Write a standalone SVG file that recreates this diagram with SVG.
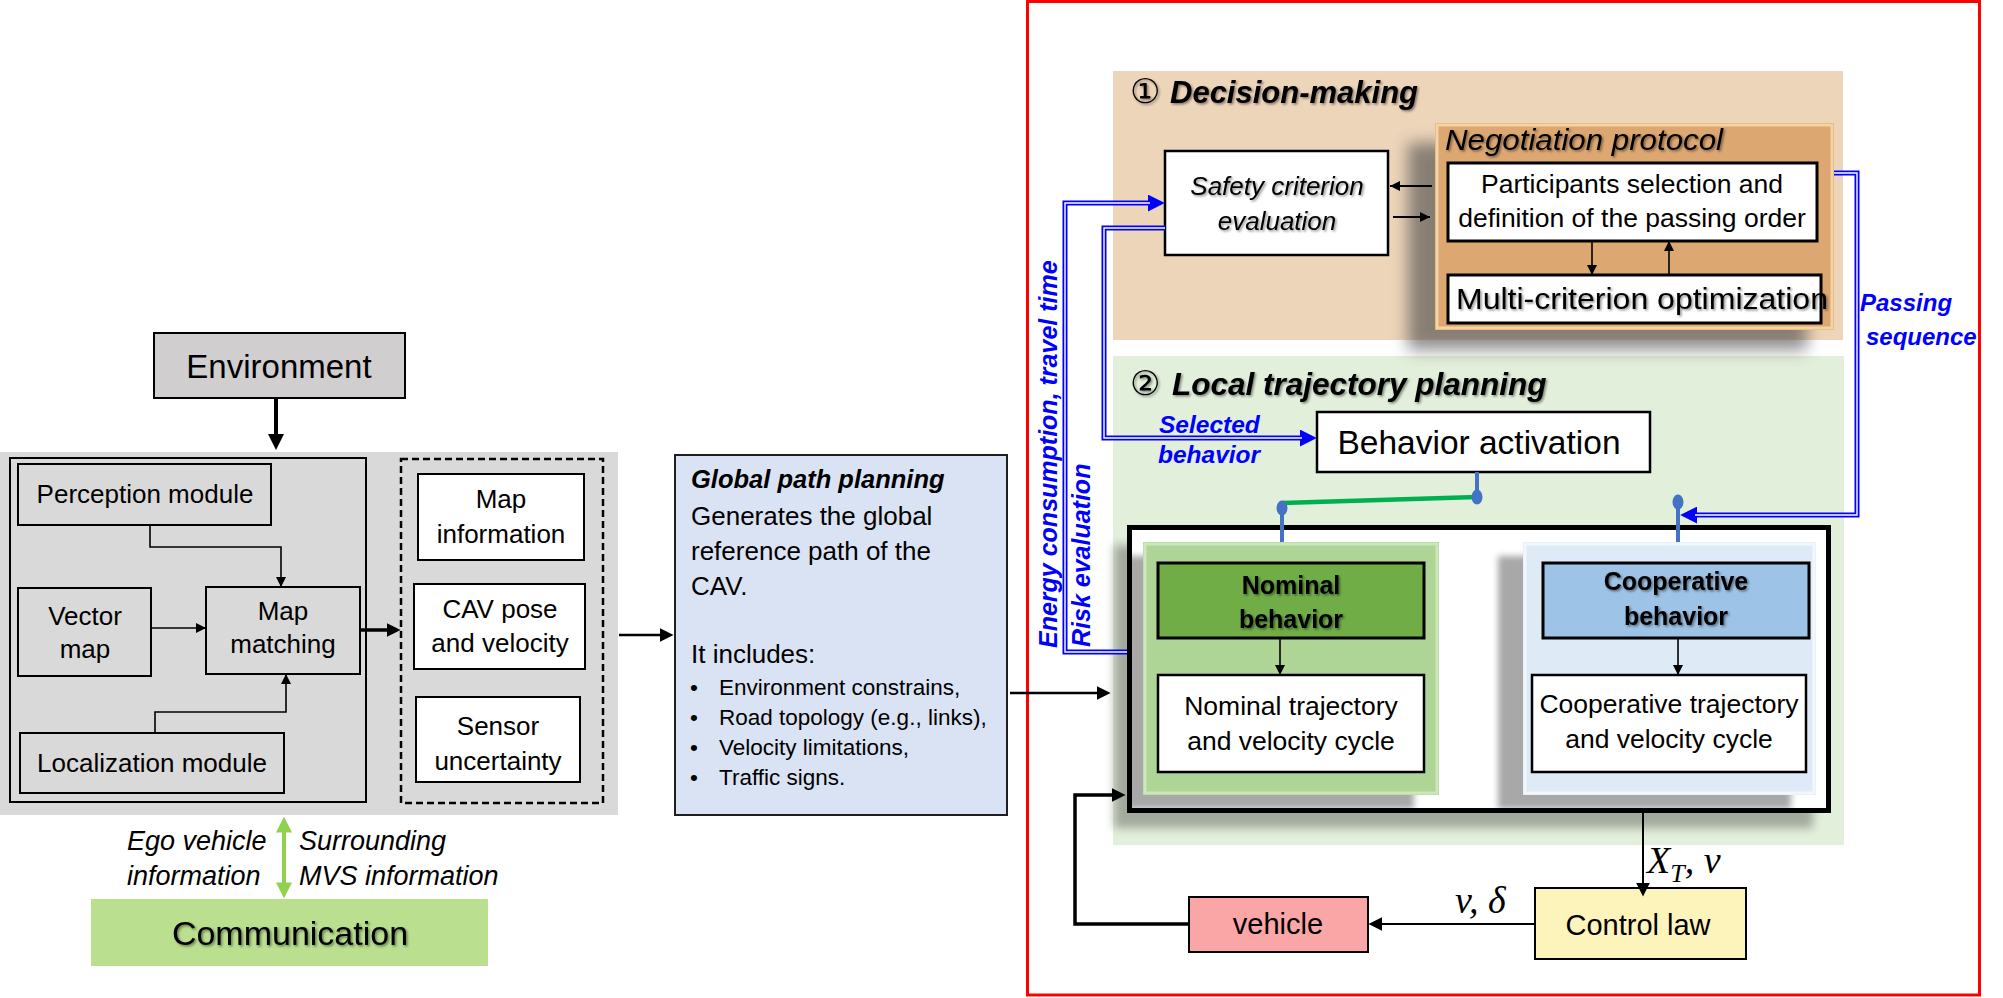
<svg xmlns="http://www.w3.org/2000/svg" width="2003" height="998" viewBox="0 0 2003 998">
<defs>
<style>
text{font-family:"Liberation Sans","DejaVu Sans",sans-serif;fill:#000}
.c{text-anchor:middle}
.i{font-style:italic}
.b{font-weight:bold}
.bl{fill:#0000ff}
.bx{stroke:#000;stroke-width:2}
.ln{fill:none;stroke:#000;stroke-width:1.6}
.dbl{fill:none;stroke:#0000ff;stroke-width:5}
.dbw{fill:none;stroke:#fff;stroke-width:1.4}
.bc{fill:none;stroke:#4472c4;stroke-width:4}
.math{font-family:"Liberation Serif","DejaVu Serif",serif;font-style:italic}
</style>
<marker id="a10" viewBox="0 0 10 10" refX="10" refY="5" markerWidth="11" markerHeight="10" markerUnits="userSpaceOnUse" orient="auto"><path d="M0,0L10,5L0,10z"/></marker>
<marker id="a14" viewBox="0 0 10 10" refX="6" refY="5" markerWidth="14" markerHeight="14" markerUnits="userSpaceOnUse" orient="auto"><path d="M0,0L10,5L0,10z"/></marker>
<marker id="a17" viewBox="0 0 10 10" refX="6" refY="5" markerWidth="17" markerHeight="16" markerUnits="userSpaceOnUse" orient="auto"><path d="M0,0L10,5L0,10z"/></marker>
<marker id="ab" viewBox="0 0 10 10" refX="6" refY="5" markerWidth="17" markerHeight="17" markerUnits="userSpaceOnUse" orient="auto"><path d="M0,0L10,5L0,10z" fill="#0000ff"/></marker>
<marker id="ag" viewBox="0 0 10 10" refX="6" refY="5" markerWidth="16" markerHeight="16" markerUnits="userSpaceOnUse" orient="auto-start-reverse"><path d="M0,0L10,5L0,10z" fill="#92d050"/></marker>
<filter id="blur8" x="-20%" y="-20%" width="140%" height="140%"><feGaussianBlur stdDeviation="8"/></filter>
<filter id="blur5" x="-20%" y="-20%" width="140%" height="140%"><feGaussianBlur stdDeviation="5"/></filter>
<filter id="blur3" x="-20%" y="-20%" width="140%" height="140%"><feGaussianBlur stdDeviation="3"/></filter>
<filter id="tsh" x="-10%" y="-30%" width="120%" height="160%"><feDropShadow dx="1.5" dy="1.5" stdDeviation="1.2" flood-color="#000" flood-opacity="0.45"/></filter>
<clipPath id="bigin"><rect x="1132" y="530" width="694" height="278"/></clipPath>
</defs>

<rect width="2003" height="998" fill="#fff"/>

<!-- left side -->
<g id="environment">
<rect x="154" y="333" width="251" height="65" fill="#d0cece" class="bx"/>
<text x="279" y="378" class="c" font-size="33">Environment</text>
</g>

<g id="sensing-panel">
<rect x="0" y="452" width="618" height="363" fill="#d9d9d9"/>
<rect x="10" y="458" width="356" height="344" fill="none" class="bx"/>
<rect x="401" y="459" width="202" height="344" fill="none" stroke="#000" stroke-width="2.5" stroke-dasharray="7 4"/>
</g>

<g id="perception-module">
<rect x="18" y="464" width="253" height="61" fill="#d9d9d9" class="bx"/>
<text x="145" y="503" class="c" font-size="26">Perception module</text>
</g>
<g id="vector-map">
<rect x="18" y="588" width="133" height="88" fill="#d9d9d9" class="bx"/>
<text x="85" y="625" class="c" font-size="26">Vector</text>
<text x="85" y="658" class="c" font-size="26">map</text>
</g>
<g id="map-matching">
<rect x="206" y="587" width="154" height="87" fill="#d9d9d9" class="bx"/>
<text x="283" y="620" class="c" font-size="26">Map</text>
<text x="283" y="653" class="c" font-size="26">matching</text>
</g>
<g id="localization-module">
<rect x="20" y="733" width="264" height="60" fill="#d9d9d9" class="bx"/>
<text x="152" y="772" class="c" font-size="26">Localization module</text>
</g>
<g id="map-information">
<rect x="418" y="474" width="166" height="86" fill="#fff" class="bx"/>
<text x="501" y="508" class="c" font-size="26">Map</text>
<text x="501" y="543" class="c" font-size="26">information</text>
</g>
<g id="cav-pose">
<rect x="414" y="584" width="171" height="85" fill="#fff" class="bx"/>
<text x="500" y="618" class="c" font-size="26">CAV pose</text>
<text x="500" y="652" class="c" font-size="26">and velocity</text>
</g>
<g id="sensor-uncertainty">
<rect x="416" y="697" width="164" height="85" fill="#fff" class="bx"/>
<text x="498" y="735" class="c" font-size="26">Sensor</text>
<text x="498" y="770" class="c" font-size="26">uncertainty</text>
</g>

<g id="communication">
<rect x="91" y="899" width="397" height="67" fill="#badf8f"/>
<text x="290" y="945" class="c" font-size="34" filter="url(#tsh)">Communication</text>
</g>

<g id="global-path-planning">
<rect x="675" y="455" width="332" height="360" fill="#dae3f3" stroke="#1f1f1f" stroke-width="2"/>
<text x="691" y="488" class="b i" font-size="25.5">Global path planning</text>
<text x="691" y="525" font-size="26">Generates the global</text>
<text x="691" y="560" font-size="26">reference path of the</text>
<text x="691" y="595" font-size="26">CAV.</text>
<text x="691" y="663" font-size="26">It includes:</text>
<g font-size="22.5">
<text x="690" y="695">•</text><text x="719" y="695">Environment constrains,</text>
<text x="690" y="725">•</text><text x="719" y="725">Road topology (e.g., links),</text>
<text x="690" y="755">•</text><text x="719" y="755">Velocity limitations,</text>
<text x="690" y="785">•</text><text x="719" y="785">Traffic signs.</text>
</g>
</g>

<!-- right side -->
<rect id="frame" x="1027.5" y="1.5" width="952" height="993.5" fill="none" stroke="#ff0000" stroke-width="3"/>

<g id="decision-making">
<rect x="1113" y="71" width="730" height="269" fill="#edd5ba"/>
<text y="103" class="b i" font-size="31" filter="url(#tsh)"><tspan x="1130" font-style="normal" font-weight="normal" font-size="34">①</tspan><tspan x="1170">Decision-making</tspan></text>
</g>

<g id="local-trajectory-planning">
<rect x="1113" y="356" width="731" height="489" fill="#e2efda"/>
<text y="395" class="b i" font-size="31.5" filter="url(#tsh)"><tspan x="1130" font-style="normal" font-weight="normal" font-size="34">②</tspan><tspan x="1172">Local trajectory planning</tspan></text>
</g>

<g id="safety-criterion">
<rect x="1165" y="151" width="223" height="104" fill="#fff" stroke="#000" stroke-width="2.5"/>
<text x="1277" y="195" class="c i" font-size="26" filter="url(#tsh)">Safety criterion</text>
<text x="1277" y="230" class="c i" font-size="26" filter="url(#tsh)">evaluation</text>
</g>

<g id="negotiation-protocol">
<rect x="1408" y="143" width="399" height="207" fill="#444" opacity="0.6" filter="url(#blur8)"/>
<rect x="1435" y="123" width="399" height="207" fill="#dca770"/>
<rect x="1437" y="125" width="395" height="203" fill="none" stroke="#f6d3a4" stroke-width="3"/>
<text x="1445" y="150" class="i" font-size="29" textLength="278" lengthAdjust="spacingAndGlyphs" filter="url(#tsh)">Negotiation protocol</text>
</g>
<g id="participants-selection">
<rect x="1448" y="163" width="369" height="78" fill="#fff" stroke="#000" stroke-width="3"/>
<text x="1632" y="193" class="c" font-size="26.5">Participants selection and</text>
<text x="1632" y="227" class="c" font-size="26.5">definition of the passing order</text>
</g>
<g id="multi-criterion">
<rect x="1448" y="275" width="373" height="48" fill="#fff" stroke="#000" stroke-width="3"/>
<text x="1456" y="309" font-size="30" textLength="372" lengthAdjust="spacingAndGlyphs" filter="url(#tsh)">Multi-criterion optimization</text>
</g>

<g id="behavior-activation">
<rect x="1317" y="412" width="333" height="60" fill="#fff" stroke="#000" stroke-width="2.5"/>
<text x="1479" y="454" class="c" font-size="33.5">Behavior activation</text>
</g>

<g id="behavior-container">
<rect x="1114" y="545" width="699" height="283" fill="#555" opacity="0.45" filter="url(#blur5)"/>
<rect x="1129.5" y="527.5" width="699" height="283" fill="#fff" stroke="#000" stroke-width="5"/>
<g clip-path="url(#bigin)">
<rect x="1118" y="556" width="296" height="253" fill="#a8a8a8" filter="url(#blur3)"/>
<rect x="1498" y="556" width="293" height="253" fill="#a8a8a8" filter="url(#blur3)"/>
</g>
</g>

<g id="nominal-panel">
<rect x="1143" y="542" width="296" height="253" fill="#aed596"/>
<rect x="1145" y="544" width="292" height="249" fill="none" stroke="#cde7bb" stroke-width="3"/>
</g>
<g id="cooperative-panel">
<rect x="1523" y="542" width="293" height="253" fill="#deebf7"/>
<rect x="1525" y="544" width="289" height="249" fill="none" stroke="#f2f7fc" stroke-width="3"/>
</g>
<g id="nominal-behavior">
<rect x="1158" y="563" width="266" height="75" fill="#70ad47" stroke="#000" stroke-width="3"/>
<text x="1291" y="594" class="c b" font-size="25" filter="url(#tsh)">Nominal</text>
<text x="1291" y="628" class="c b" font-size="25" filter="url(#tsh)">behavior</text>
</g>
<g id="cooperative-behavior">
<rect x="1543" y="563" width="266" height="75" fill="#9dc3e6" stroke="#000" stroke-width="3"/>
<text x="1676" y="590" class="c b" font-size="25" filter="url(#tsh)">Cooperative</text>
<text x="1676" y="625" class="c b" font-size="25" filter="url(#tsh)">behavior</text>
</g>
<g id="nominal-trajectory">
<rect x="1158" y="675" width="266" height="97" fill="#fff" stroke="#000" stroke-width="2.5"/>
<text x="1291" y="715" class="c" font-size="26.5">Nominal trajectory</text>
<text x="1291" y="750" class="c" font-size="26.5">and velocity cycle</text>
</g>
<g id="cooperative-trajectory">
<rect x="1532" y="675" width="274" height="97" fill="#fff" stroke="#000" stroke-width="2.5"/>
<text x="1669" y="713" class="c" font-size="26.5">Cooperative trajectory</text>
<text x="1669" y="748" class="c" font-size="26.5">and velocity cycle</text>
</g>

<g id="control-law">
<rect x="1535" y="888" width="211" height="71" fill="#fdf4bb" stroke="#000" stroke-width="2"/>
<text x="1638" y="935" class="c" font-size="29">Control law</text>
</g>
<g id="vehicle">
<rect x="1189" y="897" width="179" height="55" fill="#fba6a6" stroke="#000" stroke-width="2"/>
<text x="1278" y="934" class="c" font-size="29">vehicle</text>
</g>

<!-- connectors -->
<g id="connectors">
<path d="M276,399V443.6" fill="none" stroke="#000" stroke-width="4" marker-end="url(#a17)"/>
<path d="M150,525V547H281V587" class="ln" marker-end="url(#a10)"/>
<path d="M151,628H206" class="ln" marker-end="url(#a10)"/>
<path d="M155,733V712H286V674" class="ln" marker-end="url(#a10)"/>
<path d="M360,630H395" fill="none" stroke="#000" stroke-width="3.5" marker-end="url(#a14)"/>
<path d="M619,635H668" fill="none" stroke="#000" stroke-width="2.5" marker-end="url(#a14)"/>
<path d="M284,823V892" fill="none" stroke="#92d050" stroke-width="4" marker-start="url(#ag)" marker-end="url(#ag)"/>
<path d="M1010,693H1105" fill="none" stroke="#000" stroke-width="2.5" marker-end="url(#a14)"/>

<path d="M1432,186H1390" fill="none" stroke="#000" stroke-width="2" marker-end="url(#a10)"/>
<path d="M1393,217H1430" fill="none" stroke="#000" stroke-width="2" marker-end="url(#a10)"/>
<path d="M1592,241V275" class="ln" marker-end="url(#a10)"/>
<path d="M1669,275V241" class="ln" marker-end="url(#a10)"/>

<path d="M1127,652H1065V203H1158" class="dbl" marker-end="url(#ab)"/>
<path d="M1127,652H1065V203H1150" class="dbw"/>
<path d="M1165,228H1104V438H1310" class="dbl" marker-end="url(#ab)"/>
<path d="M1165,228H1104V438H1302" class="dbw"/>
<path d="M1834,173H1857V515H1687" class="dbl" marker-end="url(#ab)"/>
<path d="M1834,173H1857V515H1695" class="dbw"/>

<path d="M1477,472V497" class="bc"/>
<path d="M1477,497L1282,503" fill="none" stroke="#00b050" stroke-width="4.5"/>
<ellipse cx="1477" cy="497" rx="5.5" ry="7.5" fill="#4472c4"/>
<path d="M1282,509V542" class="bc"/>
<ellipse cx="1282" cy="508" rx="5.5" ry="7.5" fill="#4472c4"/>
<path d="M1678,502V542" class="bc"/>
<ellipse cx="1678" cy="502" rx="5.5" ry="7.5" fill="#4472c4"/>

<path d="M1280,638V675" class="ln" marker-end="url(#a10)"/>
<path d="M1678,638V675" class="ln" marker-end="url(#a10)"/>
<path d="M1643,813V891" fill="none" stroke="#000" stroke-width="2" marker-end="url(#a14)"/>
<path d="M1535,924H1374" fill="none" stroke="#000" stroke-width="2" marker-end="url(#a14)"/>
<path d="M1189,924H1075V795H1120" fill="none" stroke="#000" stroke-width="3.5" marker-end="url(#a14)"/>
</g>

<!-- connector labels -->
<g id="labels">
<text x="127" y="850" class="i" font-size="27">Ego vehicle</text>
<text x="127" y="885" class="i" font-size="27">information</text>
<text x="299" y="850" class="i" font-size="27">Surrounding</text>
<text x="299" y="885" class="i" font-size="27">MVS information</text>
<text transform="translate(1057,648) rotate(-90)" class="b i bl" font-size="25">Energy consumption, travel time</text>
<text transform="translate(1090,647) rotate(-90)" class="b i bl" font-size="25">Risk evaluation</text>
<text x="1159" y="433" class="b i bl" font-size="24.5">Selected</text>
<text x="1158" y="463" class="b i bl" font-size="24.5">behavior</text>
<text x="1860" y="311" class="b i bl" font-size="24">Passing</text>
<text x="1866" y="345" class="b i bl" font-size="24">sequence</text>
<text x="1647" y="873" class="math" font-size="38">X<tspan font-size="26" dy="9">T</tspan><tspan dy="-9">, v</tspan></text>
<text x="1455" y="913" class="math" font-size="38">v, δ</text>
</g>
</svg>
